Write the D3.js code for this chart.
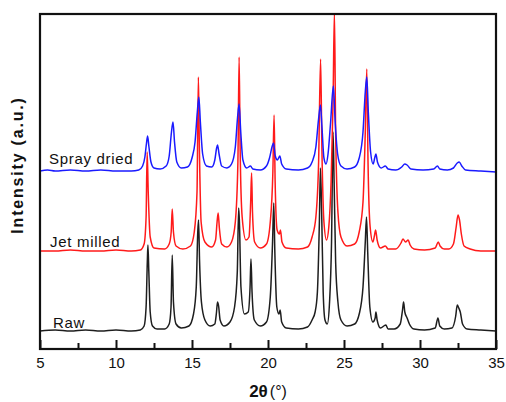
<!DOCTYPE html>
<html>
<head>
<meta charset="utf-8">
<script src="https://cdn.jsdelivr.net/npm/d3@7"></script>
<style>
  body { margin: 0; background: #fff; }
  text { font-family: "Liberation Sans", Arial, sans-serif; }
</style>
</head>
<body>
<svg width="506" height="402"></svg>
<script>
// series labels, colours and vertical offsets (a.u.)
const names = ['Raw', 'Jet milled', 'Spray dried'];
const colors = ['#1e1e1e', '#ff1a1a', '#1a1aff'];
const offsets = [0, 80, 160];

// [2theta, intensity]
const raw = [[5,1],[6,2],[7,1],[8,2],[9,1],[10,2],[11,1],[11.6,2],[11.85,6],[11.98,25],[12.06,70],[12.1,87],[12.16,60],[12.25,20],[12.4,6],[12.7,3],
  [13.2,3],[13.5,8],[13.62,25],[13.7,77],[13.78,30],[13.95,8],[14.3,4],
  [14.8,6],[15.1,18],[15.28,45],[15.38,100],[15.43,112],[15.5,70],[15.62,30],[15.85,12],[16.2,6],
  [16.5,8],[16.6,18],[16.68,30],[16.75,26],[16.85,12],[17.1,6],
  [17.5,10],[17.8,25],[17.98,60],[18.07,124],[18.12,110],[18.22,45],[18.45,18],
  [18.7,20],[18.82,45],[18.88,73],[18.95,40],[19.1,12],[19.5,6],
  [19.9,10],[20.15,35],[20.3,90],[20.38,129],[20.45,80],[20.58,25],[20.72,18],[20.8,22],[20.9,10],[21.2,4],
  [22,3],[22.6,5],[22.9,12],[23.1,20],[23.25,40],[23.38,110],[23.45,164],[23.53,120],[23.63,40],[23.75,12],[23.9,8],
  [24.05,30],[24.18,90],[24.28,200],[24.35,150],[24.45,70],[24.6,30],[24.8,12],[25.2,6],
  [25.7,8],[26.0,18],[26.25,45],[26.4,90],[26.48,115],[26.56,80],[26.7,25],[26.9,10],
  [27.05,14],[27.1,20],[27.18,12],[27.4,4],[27.75,7],[27.9,3],[28.3,3],
  [28.7,8],[28.85,22],[28.92,30],[29.0,20],[29.15,14],[29.3,8],[29.6,3],[30.3,2],
  [31.0,4],[31.18,14],[31.3,6],[31.6,3],[32.1,4],[32.35,16],[32.45,27],[32.55,24],[32.65,20],[32.8,8],[33.1,3],[34,2],[35,1]];

const jetMilled = [[5,1],[6,1],[7,2],[8,1],[9,1],[10,2],[11,1],[11.6,2],[11.85,8],[11.98,35],[12.05,100],[12.12,60],[12.25,15],[12.5,4],
  [13.2,3],[13.5,8],[13.63,20],[13.7,43],[13.78,20],[13.95,6],[14.4,3],
  [14.9,6],[15.15,20],[15.33,60],[15.42,175],[15.48,110],[15.6,30],[15.85,10],[16.3,5],
  [16.55,12],[16.65,30],[16.72,39],[16.8,24],[16.95,8],[17.3,5],
  [17.6,10],[17.85,30],[18.02,90],[18.1,195],[18.17,100],[18.3,35],[18.55,12],
  [18.75,15],[18.86,50],[18.92,79],[18.98,40],[19.12,10],[19.5,4],
  [19.9,8],[20.15,30],[20.32,80],[20.4,137],[20.47,70],[20.6,22],[20.75,18],[20.82,22],[20.92,10],[21.2,4],
  [22,3],[22.6,5],[22.9,15],[23.15,35],[23.33,90],[23.46,193],[23.55,100],[23.68,30],[23.85,12],
  [24.0,25],[24.15,70],[24.28,150],[24.37,240],[24.45,120],[24.6,40],[24.8,15],[25.2,6],
  [25.7,8],[26.0,20],[26.25,50],[26.4,120],[26.5,183],[26.58,90],[26.72,25],[26.9,10],
  [27.0,16],[27.08,22],[27.18,12],[27.4,4],[27.72,6],[27.9,3],[28.4,3],
  [28.75,9],[28.88,13],[29.05,10],[29.22,12],[29.35,7],[29.6,3],[30.3,2],
  [31.0,4],[31.2,10],[31.32,6],[31.6,3],[31.9,3],[32.2,8],[32.38,25],[32.5,37],[32.6,32],[32.72,18],[32.9,6],[33.3,3],[34,1],[35,1]];

const sprayDried = [[5,1],[5.5,2],[6,1],[7,2],[8,1],[9,2],[10,1],[11,1],[11.5,2],[11.75,6],[11.9,15],[12.0,28],[12.08,36],[12.16,26],[12.3,10],[12.5,4],
  [12.9,3],[13.3,6],[13.5,16],[13.65,40],[13.75,50],[13.85,30],[14.0,10],[14.3,4],
  [14.7,5],[15.0,14],[15.2,30],[15.35,60],[15.45,75],[15.55,50],[15.7,18],[15.95,6],[16.3,5],
  [16.5,12],[16.62,24],[16.68,27],[16.78,18],[16.95,6],[17.3,4],
  [17.6,8],[17.85,25],[18.0,55],[18.1,68],[18.2,42],[18.35,12],[18.6,4],[18.85,6],[19.0,3],[19.5,2],
  [19.9,6],[20.1,14],[20.28,26],[20.36,29],[20.48,16],[20.62,12],[20.78,16],[20.9,8],[21.2,3],
  [22,2],[22.6,4],[22.9,10],[23.15,25],[23.32,52],[23.45,67],[23.55,45],[23.68,14],[23.82,8],
  [23.95,18],[24.12,50],[24.3,86],[24.42,50],[24.58,18],[24.8,6],[25.2,3],
  [25.7,5],[26.0,14],[26.25,40],[26.4,80],[26.5,95],[26.6,60],[26.75,20],[26.92,8],
  [27.02,14],[27.1,18],[27.2,10],[27.45,4],[27.72,6],[27.9,3],[28.4,2],
  [28.8,5],[29.0,8],[29.15,7],[29.4,3],[30.2,2],[30.9,3],[31.15,6],[31.3,3],[31.8,2],
  [32.2,4],[32.45,9],[32.58,10],[32.75,6],[33.0,2],[34,1],[35,0]];

const series = [raw, jetMilled, sprayDried];
const majorTicks = [5, 10, 15, 20, 25, 30, 35];
const minorTicks = [7.5, 12.5, 17.5, 22.5, 27.5, 32.5];

const margin = { top: 14, right: 10, bottom: 53, left: 40 };
const width = 506 - margin.left - margin.right;
const height = 402 - margin.top - margin.bottom;

const x = d3.scaleLinear().domain([5, 35]).range([0, width]);
const y = d3.scaleLinear().domain([-17, 318]).range([height, 0]);

const svg = d3.select('svg')
  .append('g')
  .attr('transform', `translate(${margin.left}, ${margin.top})`);

svg.append('clipPath').attr('id', 'clip')
  .append('rect').attr('width', width).attr('height', height);

const plot = svg.append('g').attr('clip-path', 'url(#clip)');

series.forEach((s, i) => {
  const line = d3.line()
    .x(d => x(d[0]))
    .y(d => y(d[1] + offsets[i]))
    .curve(d3.curveMonotoneX);
  plot.append('path')
    .datum(s)
    .attr('fill', 'none')
    .attr('stroke', colors[i])
    .attr('stroke-width', 1.5)
    .attr('stroke-linejoin', 'round')
    .attr('d', line);
});

// series names
const labelX = [13, 10, 9];
const labelDy = [-4, -5, -8];
names.forEach((n, i) => {
  svg.append('text')
    .attr('x', labelX[i])
    .attr('y', y(offsets[i]) + labelDy[i])
    .attr('font-size', '15px')
    .attr('letter-spacing', '0.7px')
    .attr('fill', '#111')
    .text(n);
});

// bottom axis: inward ticks
svg.append('g')
  .attr('transform', `translate(0, ${height})`)
  .call(d3.axisBottom(x).tickValues(majorTicks).tickSizeInner(-9).tickSizeOuter(0).tickPadding(8).tickFormat(d3.format('d')))
  .call(g => g.select('.domain').remove())
  .call(g => g.selectAll('line').attr('stroke', '#111').attr('stroke-width', 2))
  .call(g => g.selectAll('text').attr('font-size', '15px').attr('fill', '#111')
    .style('font-family', '"Liberation Sans", Arial, sans-serif'));

svg.append('g')
  .attr('transform', `translate(0, ${height})`)
  .call(d3.axisBottom(x).tickValues(minorTicks).tickSizeInner(-6).tickSizeOuter(0).tickFormat(''))
  .call(g => g.select('.domain').remove())
  .call(g => g.selectAll('line').attr('stroke', '#111').attr('stroke-width', 2));

// frame
svg.append('rect')
  .attr('width', width)
  .attr('height', height)
  .attr('fill', 'none')
  .attr('stroke', '#111')
  .attr('stroke-width', 2.2);

// axis titles
const xt = svg.append('text')
  .attr('x', width / 2)
  .attr('y', height + 48)
  .attr('text-anchor', 'middle')
  .attr('fill', '#111');
xt.append('tspan').attr('font-weight', 'bold').attr('font-size', '17px').text('2θ');
xt.append('tspan').attr('font-size', '16px').attr('dx', 2).text('(°)');

svg.append('text')
  .attr('transform', 'rotate(-90)')
  .attr('x', -(165 - margin.top))
  .attr('y', -17)
  .attr('text-anchor', 'middle')
  .attr('font-weight', 'bold')
  .attr('font-size', '16px')
  .attr('letter-spacing', '1.8px')
  .attr('fill', '#111')
  .text('Intensity (a.u.)');
</script>
</body>
</html>
